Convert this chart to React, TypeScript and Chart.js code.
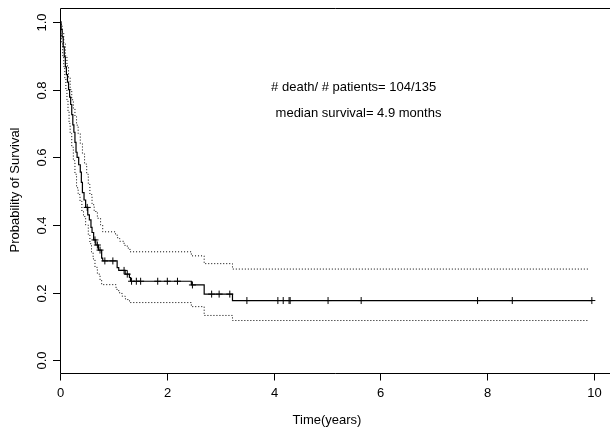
import React, { useEffect, useRef } from "react";
import { Chart, registerables } from "chart.js";

Chart.register(...registerables);

// Kaplan-Meier estimate (time in years, survival probability after the step)
const kmTime = [0, 0.02, 0.04, 0.06, 0.08, 0.1, 0.12, 0.14, 0.16, 0.18, 0.2, 0.22, 0.24, 0.26, 0.28, 0.3, 0.32, 0.35, 0.38, 0.4, 0.42, 0.45, 0.48, 0.52, 0.55, 0.58, 0.6, 0.63, 0.67, 0.72, 0.78, 0.8, 1.07, 1.1, 1.22, 1.3, 1.32, 2.46, 2.7, 3.23, 9.96];
const kmSurv = [1, 0.978, 0.956, 0.926, 0.897, 0.867, 0.844, 0.822, 0.8, 0.778, 0.756, 0.726, 0.696, 0.674, 0.644, 0.615, 0.6, 0.578, 0.556, 0.526, 0.496, 0.474, 0.452, 0.43, 0.415, 0.393, 0.378, 0.356, 0.341, 0.326, 0.302, 0.294, 0.274, 0.266, 0.255, 0.245, 0.234, 0.223, 0.196, 0.177, 0.177];

// Upper confidence limit
const upperTime = [0, 0.02, 0.04, 0.07, 0.1, 0.13, 0.16, 0.19, 0.22, 0.25, 0.28, 0.31, 0.34, 0.38, 0.42, 0.46, 0.5, 0.53, 0.56, 0.6, 0.64, 0.7, 0.76, 0.8, 1.04, 1.08, 1.12, 1.2, 1.26, 1.31, 2.46, 2.7, 3.23, 9.9];
const upperSurv = [1, 0.99, 0.97, 0.935, 0.9, 0.87, 0.835, 0.8, 0.77, 0.745, 0.72, 0.695, 0.67, 0.64, 0.61, 0.58, 0.55, 0.52, 0.49, 0.46, 0.44, 0.42, 0.4, 0.38, 0.37, 0.36, 0.352, 0.34, 0.332, 0.321, 0.309, 0.286, 0.27, 0.27];

// Lower confidence limit
const lowerTime = [0, 0.015, 0.03, 0.05, 0.07, 0.09, 0.11, 0.13, 0.15, 0.17, 0.19, 0.22, 0.25, 0.28, 0.31, 0.34, 0.375, 0.41, 0.44, 0.48, 0.53, 0.56, 0.59, 0.62, 0.655, 0.7, 0.75, 0.78, 1.05, 1.1, 1.16, 1.22, 1.27, 1.31, 2.46, 2.7, 3.23, 9.9];
const lowerSurv = [1, 0.965, 0.935, 0.9, 0.868, 0.835, 0.8, 0.77, 0.735, 0.7, 0.67, 0.63, 0.59, 0.55, 0.51, 0.49, 0.47, 0.44, 0.425, 0.4, 0.37, 0.345, 0.32, 0.3, 0.275, 0.255, 0.238, 0.224, 0.21, 0.2, 0.19, 0.182, 0.176, 0.171, 0.159, 0.133, 0.118, 0.118];

// Censoring times
const censorTimes = [0.51, 0.655, 0.7, 0.75, 0.84, 0.99, 1.2, 1.26, 1.34, 1.43, 1.51, 1.83, 2.01, 2.2, 2.48, 2.84, 2.98, 3.18, 3.5, 4.08, 4.18, 4.29, 4.31, 5.02, 5.64, 7.82, 8.47, 9.96];

const xTicks = [0, 2, 4, 6, 8, 10];
const yTicks = [0, 0.2, 0.4, 0.6, 0.8, 1.0];
const yTickLabels = ["0.0", "0.2", "0.4", "0.6", "0.8", "1.0"];

const annotLines = ["# death/ # patients= 104/135", "median survival= 4.9 months"];
const annotX = [5.5, 5.59];
const annotY = [0.805, 0.731];

const xTitle = "Time(years)";
const yTitle = "Probability of Survival";

function survAt(t: number): number {
  let s = kmSurv[0];
  for (let i = 0; i < kmTime.length; i++) {
    if (kmTime[i] <= t) s = kmSurv[i];
  }
  return s;
}

const FONT = "'Liberation Sans', Arial, Helvetica, sans-serif";

const axesPlugin = {
  id: "rAxes",
  afterDraw(chart: any) {
    const ctx = chart.ctx;
    const xs = chart.scales.x;
    const ys = chart.scales.y;
    const a = chart.chartArea;
    ctx.save();
    ctx.strokeStyle = "#000";
    ctx.fillStyle = "#000";
    ctx.lineWidth = 1;
    // box (cropped at right)
    ctx.beginPath();
    ctx.moveTo(a.left + 0.5, a.top + 0.5);
    ctx.lineTo(a.right, a.top + 0.5);
    ctx.moveTo(a.left + 0.5, a.top + 0.5);
    ctx.lineTo(a.left + 0.5, a.bottom + 0.5);
    ctx.lineTo(a.right, a.bottom + 0.5);
    ctx.stroke();
    // x ticks
    ctx.font = `13px ${FONT}`;
    ctx.textAlign = "center";
    ctx.textBaseline = "middle";
    xTicks.forEach((v) => {
      const px = Math.round(xs.getPixelForValue(v)) + 0.5;
      ctx.beginPath();
      ctx.moveTo(px, a.bottom + 0.5);
      ctx.lineTo(px, a.bottom + 7.5);
      ctx.stroke();
      ctx.fillText(String(v), px, a.bottom + 20);
    });
    // y ticks
    yTicks.forEach((v, i) => {
      const py = Math.round(ys.getPixelForValue(v)) + 0.5;
      ctx.beginPath();
      ctx.moveTo(a.left + 0.5, py);
      ctx.lineTo(a.left - 7, py);
      ctx.stroke();
      ctx.save();
      ctx.translate(42, py);
      ctx.rotate(-Math.PI / 2);
      ctx.fillText(yTickLabels[i], 0, 0);
      ctx.restore();
    });
    // titles
    ctx.fillText(xTitle, 327, 420);
    ctx.save();
    ctx.translate(15, 190);
    ctx.rotate(-Math.PI / 2);
    ctx.fillText(yTitle, 0, 0);
    ctx.restore();
    // annotations
    annotLines.forEach((txt, i) => {
      ctx.fillText(txt, xs.getPixelForValue(annotX[i]), ys.getPixelForValue(annotY[i]));
    });
    ctx.restore();
  },
};

export default function App() {
  const ref = useRef<HTMLCanvasElement | null>(null);
  useEffect(() => {
    if (!ref.current) return;
    const toPts = (t: number[], s: number[]) => t.map((v, i) => ({ x: v, y: s[i] }));
    const chart = new Chart(ref.current, {
      type: "line",
      data: {
        datasets: [
          {
            label: "upper",
            data: toPts(upperTime, upperSurv),
            stepped: true,
            borderColor: "#000",
            borderWidth: 1,
            borderDash: [1, 2],
            pointRadius: 0,
            fill: false,
          },
          {
            label: "lower",
            data: toPts(lowerTime, lowerSurv),
            stepped: true,
            borderColor: "#000",
            borderWidth: 1,
            borderDash: [1, 2],
            pointRadius: 0,
            fill: false,
          },
          {
            label: "survival",
            data: toPts(kmTime, kmSurv),
            stepped: true,
            borderColor: "#000",
            borderWidth: 1.2,
            pointRadius: 0,
            fill: false,
          },
          {
            label: "censored",
            type: "scatter",
            data: censorTimes.map((t) => ({ x: t, y: survAt(t) })),
            pointStyle: "cross",
            pointRadius: 3.5,
            borderColor: "#000",
            borderWidth: 1,
            showLine: false,
          } as any,
        ],
      },
      options: {
        animation: false,
        responsive: false,
        maintainAspectRatio: false,
        layout: { autoPadding: false, padding: { left: 60, top: 8, right: 0, bottom: 59 } },
        plugins: { legend: { display: false }, tooltip: { enabled: false } },
        scales: {
          x: { type: "linear", min: 0, max: 10.3, display: false },
          y: { type: "linear", min: -0.037, max: 1.041, display: false },
        },
      },
      plugins: [axesPlugin],
    });
    return () => chart.destroy();
  }, []);
  return (
    <div style={{ position: "absolute", left: 0, top: 0, width: 610, height: 432, overflow: "hidden", background: "#fff" }}>
      <canvas ref={ref} width={610} height={432} style={{ display: "block", width: 610, height: 432 }} />
    </div>
  );
}
